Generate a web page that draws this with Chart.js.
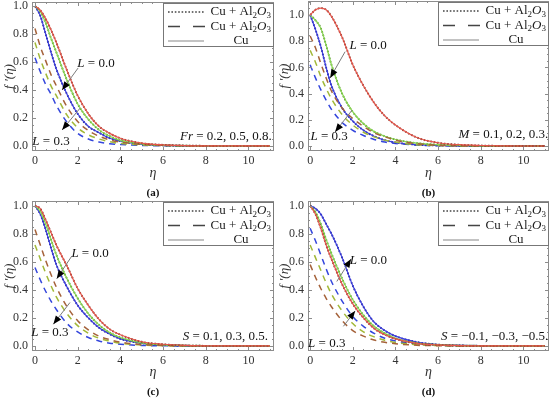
<!DOCTYPE html>
<html><head><meta charset="utf-8">
<script src="https://cdn.jsdelivr.net/npm/chart.js@4/dist/chart.umd.min.js"></script>
<style>
body{margin:0;background:#fff;width:550px;height:398px;overflow:hidden;position:relative}
.p{position:absolute;width:275px;height:199px}
canvas{display:block}
</style></head><body>
<div class="p" style="left:0;top:0"><canvas id="ca" width="275" height="199"></canvas></div>
<div class="p" style="left:275px;top:0"><canvas id="cb" width="275" height="199"></canvas></div>
<div class="p" style="left:0;top:199px"><canvas id="cc" width="275" height="199"></canvas></div>
<div class="p" style="left:275px;top:199px"><canvas id="cd" width="275" height="199"></canvas></div>
<script>
// ---- data ----
const eta = [0,0.25,0.5,0.75,1,1.5,2,2.5,3,3.5,4,5,6,7,8,9,10,11];
const xTickVals = [0,2,4,6,8,10];
const yTickVals = [0,0.2,0.4,0.6,0.8,1.0];

// panel (a): Fr = 0.2, 0.5, 0.8
const aRedL0   = [1.0,0.97,0.91,0.83,0.74,0.54,0.36,0.23,0.14,0.09,0.055,0.02,0.008,0.003,0.001,0,0,0];
const aGreenL0 = [1.0,0.96,0.88,0.77,0.67,0.47,0.30,0.19,0.115,0.07,0.04,0.015,0.005,0.002,0,0,0,0];
const aBlueL0  = [1.0,0.93,0.80,0.67,0.55,0.37,0.23,0.14,0.095,0.055,0.035,0.012,0.004,0.001,0,0,0,0];
const aRedL3   = [0.84,0.71,0.61,0.51,0.43,0.28,0.175,0.11,0.07,0.043,0.027,0.012,0.005,0.002,0,0,0,0];
const aGreenL3 = [0.74,0.62,0.52,0.43,0.36,0.22,0.13,0.08,0.05,0.03,0.018,0.008,0.003,0.001,0,0,0,0];
const aBlueL3  = [0.63,0.53,0.44,0.37,0.29,0.17,0.09,0.05,0.028,0.016,0.01,0.004,0.001,0,0,0,0,0];

// panel (b): M = 0.1, 0.2, 0.3
const bRedL0   = [1.0,1.04,1.053,1.04,0.99,0.83,0.62,0.46,0.33,0.23,0.16,0.065,0.025,0.01,0.004,0.001,0,0];
const bGreenL0 = [1.0,0.96,0.90,0.77,0.62,0.40,0.26,0.17,0.11,0.075,0.05,0.022,0.01,0.004,0.001,0,0,0];
const bBlueL0  = [1.0,0.89,0.76,0.60,0.46,0.29,0.19,0.12,0.075,0.045,0.027,0.01,0.004,0.001,0,0,0,0];
const bRedL3   = [0.84,0.75,0.63,0.52,0.42,0.29,0.21,0.15,0.10,0.07,0.045,0.018,0.007,0.002,0,0,0,0];
const bGreenL3 = [0.73,0.64,0.53,0.44,0.36,0.24,0.16,0.105,0.07,0.045,0.03,0.01,0.004,0.001,0,0,0,0];
const bBlueL3  = [0.62,0.52,0.43,0.35,0.28,0.18,0.12,0.08,0.05,0.03,0.02,0.007,0.002,0,0,0,0,0];

// panel (c): S = 0.1, 0.3, 0.5
const cRedL0   = [1.0,0.98,0.90,0.81,0.72,0.57,0.41,0.29,0.19,0.12,0.08,0.03,0.012,0.004,0.001,0,0,0];
const cGreenL0 = [1.0,0.96,0.87,0.76,0.65,0.48,0.34,0.23,0.15,0.095,0.06,0.022,0.008,0.003,0.001,0,0,0];
const cBlueL0  = [1.0,0.94,0.83,0.70,0.58,0.42,0.29,0.20,0.13,0.085,0.05,0.02,0.007,0.002,0,0,0,0];
const cRedL3   = [0.83,0.72,0.61,0.51,0.42,0.28,0.18,0.115,0.07,0.045,0.028,0.01,0.004,0.001,0,0,0,0];
const cGreenL3 = [0.72,0.62,0.52,0.43,0.35,0.23,0.145,0.09,0.055,0.035,0.02,0.007,0.002,0,0,0,0,0];
const cBlueL3  = [0.56,0.47,0.39,0.32,0.26,0.16,0.10,0.06,0.035,0.02,0.012,0.004,0.001,0,0,0,0,0];

// panel (d): S = -0.1, -0.3, -0.5
const dRedL0   = [1.0,0.94,0.84,0.72,0.62,0.44,0.30,0.20,0.125,0.08,0.05,0.018,0.007,0.002,0,0,0,0];
const dGreenL0 = [1.0,0.955,0.87,0.76,0.66,0.48,0.33,0.22,0.14,0.09,0.055,0.02,0.008,0.003,0.001,0,0,0];
const dBlueL0  = [1.0,0.98,0.94,0.87,0.80,0.63,0.43,0.28,0.17,0.11,0.07,0.028,0.01,0.004,0.001,0,0,0];
const dRedL3   = [0.58,0.49,0.41,0.34,0.28,0.18,0.11,0.07,0.042,0.026,0.016,0.005,0.002,0,0,0,0,0];
const dGreenL3 = [0.72,0.63,0.54,0.45,0.37,0.25,0.16,0.10,0.065,0.04,0.025,0.009,0.003,0,0,0,0,0];
const dBlueL3  = [0.84,0.75,0.65,0.55,0.46,0.32,0.21,0.14,0.09,0.055,0.035,0.013,0.005,0.001,0,0,0,0];

// ---- styling ----
const FONT = '"Liberation Serif", "Times New Roman", serif';
const COLORS = {
  red:   {solid:'#e8564c', dot:'#6e3426', dash:'#a5623a'},
  green: {solid:'#8ad852', dot:'#4a8424', dash:'#a2b838'},
  blue:  {solid:'#3c3ee2', dot:'#1c1e80', dash:'#3446dc'}
};

const L = (v) => [{t:'L', it:true},{t:' = '+v}];
const panels = [
  {id:'ca', tag:'(a)', red:[aRedL0,aRedL3], green:[aGreenL0,aGreenL3], blue:[aBlueL0,aBlueL3],
   xmin:-0.14, xmax:11.2, ymin:-0.036, ymax:1.029, yW:32, xH:48, padTop:2,
   texts:[{p:L('0.0'),x:2.86,y:0.59,al:'center'},{p:L('0.3'),x:0.75,y:0.03,al:'center'},
          {p:[{t:'Fr',it:true},{t:' = 0.2, 0.5, 0.8.'}],x:11.1,y:0.064,al:'right'}],
   arrows:[[2.02,0.557,1.27,0.40],[2.11,0.27,1.27,0.114]]},
  {id:'cb', tag:'(b)', red:[bRedL0,bRedL3], green:[bGreenL0,bGreenL3], blue:[bBlueL0,bBlueL3],
   xmin:-0.1, xmax:11.2, ymin:-0.038, ymax:1.107, yW:33, xH:48, padTop:1,
   texts:[{p:L('0.0'),x:2.72,y:0.77,al:'center'},{p:L('0.3'),x:0.89,y:0.069,al:'center'},
          {p:[{t:'M',it:true},{t:' = 0.1, 0.2, 0.3.'}],x:11.16,y:0.084,al:'right'}],
   arrows:[[1.64,0.72,0.94,0.52],[1.97,0.275,1.17,0.107]]},
  {id:'cc', tag:'(c)', red:[cRedL0,cRedL3], green:[cGreenL0,cGreenL3], blue:[cBlueL0,cBlueL3],
   xmin:-0.14, xmax:11.2, ymin:-0.036, ymax:1.034, yW:32, xH:47, padTop:2,
   texts:[{p:L('0.0'),x:2.58,y:0.66,al:'center'},{p:L('0.3'),x:0.70,y:0.096,al:'center'},
          {p:[{t:'S',it:true},{t:' = 0.1, 0.3, 0.5.'}],x:10.92,y:0.07,al:'right'}],
   arrows:[[1.72,0.64,1.02,0.48],[1.64,0.31,0.86,0.155]]},
  {id:'cd', tag:'(d)', red:[dRedL0,dRedL3], green:[dGreenL0,dGreenL3], blue:[dBlueL0,dBlueL3],
   xmin:-0.1, xmax:11.2, ymin:-0.036, ymax:1.034, yW:33, xH:47, padTop:2,
   texts:[{p:L('0.0'),x:2.73,y:0.61,al:'center'},{p:L('0.3'),x:0.78,y:0.02,al:'center'},
          {p:[{t:'S',it:true},{t:' = \u22120.1, \u22120.3, \u22120.5.'}],x:11.17,y:0.07,al:'right'}],
   arrows:[[1.25,0.46,1.92,0.62],[1.56,0.14,2.11,0.25]]}
];

function drawRich(ctx, parts, x, y, align, size){
  const fontOf = p => (p.it?'italic ':'') + (p.sub? Math.round(size*0.72) : size) + 'px ' + FONT;
  let w = 0;
  for (const p of parts){ ctx.font = fontOf(p); w += ctx.measureText(p.t).width; }
  let cx = align==='center' ? x - w/2 : align==='right' ? x - w : x;
  ctx.textAlign = 'left'; ctx.textBaseline = 'middle';
  for (const p of parts){
    ctx.font = fontOf(p);
    ctx.fillText(p.t, cx, p.sub ? y + size*0.28 : y);
    cx += ctx.measureText(p.t).width;
  }
}

function arrow(ctx, x1, y1, x2, y2){
  ctx.strokeStyle = '#7a7a7a'; ctx.lineWidth = 1;
  ctx.beginPath(); ctx.moveTo(x1,y1); ctx.lineTo(x2,y2); ctx.stroke();
  const ang = Math.atan2(y2-y1, x2-x1), len = 8.5, half = 3.4;
  ctx.fillStyle = '#000';
  ctx.beginPath();
  ctx.moveTo(x2, y2);
  ctx.lineTo(x2 - len*Math.cos(ang) + half*Math.sin(ang), y2 - len*Math.sin(ang) - half*Math.cos(ang));
  ctx.lineTo(x2 - len*Math.cos(ang) - half*Math.sin(ang), y2 - len*Math.sin(ang) + half*Math.cos(ang));
  ctx.closePath(); ctx.fill();
}

const decorPlugin = {
  id: 'decor',
  afterDraw(chart){
    const p = chart.options.plugins.decor.panel;
    const {ctx, chartArea:a, scales:{x, y}} = chart;
    ctx.save();
    // frame
    ctx.strokeStyle = '#8c8c8c'; ctx.lineWidth = 1;
    ctx.strokeRect(Math.round(a.left)+0.5, Math.round(a.top)+0.5, Math.round(a.right-a.left)-1, Math.round(a.bottom-a.top)-1);
    // inward ticks
    ctx.beginPath();
    for (let i = 0; i <= 22; i++){
      const v = i*0.5, px = Math.round(x.getPixelForValue(v)) + 0.5, len = (i%4===0) ? 4 : 2;
      ctx.moveTo(px, a.bottom); ctx.lineTo(px, a.bottom - len);
      ctx.moveTo(px, a.top); ctx.lineTo(px, a.top + len);
    }
    for (let i = 0; i*0.05 <= p.ymax; i++){
      const v = i*0.05, py = Math.round(y.getPixelForValue(v)) + 0.5, len = (i%4===0) ? 4 : 2;
      ctx.moveTo(a.left, py); ctx.lineTo(a.left + len, py);
      ctx.moveTo(a.right, py); ctx.lineTo(a.right - len, py);
    }
    ctx.stroke();
    // legend
    const bl = a.right - 111, br = a.right - 1, bt = a.top + 1, bb = a.top + 44;
    ctx.fillStyle = '#fff'; ctx.fillRect(bl, bt, br-bl, bb-bt);
    ctx.strokeStyle = '#777'; ctx.strokeRect(Math.round(bl)+0.5, Math.round(bt)+0.5, Math.round(br-bl), Math.round(bb-bt));
    const rows = [bt+9, bt+23.5, bt+38];
    ctx.strokeStyle = '#444'; ctx.lineWidth = 1.5;
    ctx.setLineDash([1.6,1.8]);
    ctx.beginPath(); ctx.moveTo(bl+5, rows[0]); ctx.lineTo(bl+41, rows[0]); ctx.stroke();
    ctx.setLineDash([12,13]);
    ctx.beginPath(); ctx.moveTo(bl+5, rows[1]); ctx.lineTo(bl+42, rows[1]); ctx.stroke();
    ctx.setLineDash([]); ctx.lineWidth = 1.2; ctx.strokeStyle = '#888';
    ctx.beginPath(); ctx.moveTo(bl+5, rows[2]); ctx.lineTo(bl+41, rows[2]); ctx.stroke();
    ctx.fillStyle = '#1a1a1a';
    const cuAl = [{t:'Cu + Al'},{t:'2',sub:true},{t:'O',it:true},{t:'3',sub:true}];
    drawRich(ctx, cuAl, br-2, rows[0], 'right', 13);
    drawRich(ctx, cuAl, br-2, rows[1], 'right', 13);
    drawRich(ctx, [{t:'Cu'}], bl+78, rows[2], 'center', 13);
    // annotations
    for (const ar of p.arrows){
      arrow(ctx, x.getPixelForValue(ar[0]), y.getPixelForValue(ar[1]), x.getPixelForValue(ar[2]), y.getPixelForValue(ar[3]));
    }
    ctx.fillStyle = '#111';
    for (const t of p.texts){
      drawRich(ctx, t.p, x.getPixelForValue(t.x), y.getPixelForValue(t.y), t.al, 13);
    }
    // panel tag
    ctx.font = 'bold 11px ' + FONT; ctx.textAlign = 'center'; ctx.textBaseline = 'middle';
    ctx.fillStyle = '#111';
    ctx.fillText(p.tag, (a.left + a.right)/2, 193);
    ctx.restore();
  }
};

function makeChart(p){
  const datasets = [];
  for (const c of ['red','green','blue']){
    const l0 = eta.map((e,i) => ({x:e, y:p[c][0][i]}));
    const l3 = eta.map((e,i) => ({x:e, y:p[c][1][i]}));
    datasets.push({label:'Cu L=0.0', data:l0, borderColor:COLORS[c].solid, borderWidth:1.2});
    datasets.push({label:'Cu+Al2O3 L=0.0', data:l0, borderColor:COLORS[c].dot, borderWidth:1.8, borderDash:[1.6,1.8]});
    datasets.push({label:'Cu+Al2O3 L=0.3', data:l3, borderColor:COLORS[c].dash, borderWidth:1.5, borderDash:[6,5]});
  }
  datasets.forEach(d => { d.pointRadius = 0; d.fill = false; d.cubicInterpolationMode = 'monotone'; });
  new Chart(document.getElementById(p.id), {
    type: 'line',
    data: {datasets},
    plugins: [decorPlugin],
    options: {
      responsive:false, animation:false, devicePixelRatio:1,
      layout:{padding:{top:p.padTop, right:1, left:0, bottom:0}, autoPadding:false},
      plugins:{legend:{display:false}, tooltip:{enabled:false}, decor:{panel:p}},
      scales:{
        x:{type:'linear', min:p.xmin, max:p.xmax,
           afterBuildTicks: s => { s.ticks = xTickVals.map(v => ({value:v})); },
           afterFit: s => { s.height = p.xH; s.paddingLeft = 0; s.paddingRight = 0; },
           grid:{display:false, drawTicks:false}, border:{display:false},
           ticks:{padding:3, autoSkip:false, maxRotation:0, color:'#333', font:{family:FONT, size:12}, callback: v => String(v)},
           title:{display:true, text:'\u03b7', color:'#333', font:{family:FONT, size:14, style:'italic'}, padding:{top:0, bottom:17}}},
        y:{type:'linear', min:p.ymin, max:p.ymax,
           afterBuildTicks: s => { s.ticks = yTickVals.map(v => ({value:v})); },
           afterFit: s => { s.width = p.yW; s.paddingTop = 0; s.paddingBottom = 0; },
           grid:{display:false, drawTicks:false}, border:{display:false},
           ticks:{padding:4, autoSkip:false, color:'#333', font:{family:FONT, size:12}, callback: v => Number(v).toFixed(1)},
           title:{display:true, text:'f \u2032(\u03b7)', color:'#333', font:{family:FONT, size:13, style:'italic'}, padding:{top:2, bottom:0}}}
      }
    }
  });
}
panels.forEach(makeChart);
</script>
</body></html>
